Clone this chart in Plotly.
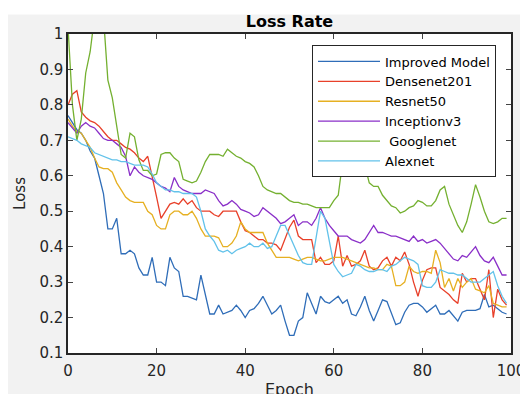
import plotly.graph_objects as go

epochs = list(range(100))

improved = [0.77,0.75,0.73,0.72,0.70,0.67,0.65,0.60,0.55,0.45,
            0.45,0.48,0.38,0.38,0.39,0.38,0.34,0.32,0.32,0.37,
            0.30,0.30,0.29,0.37,0.34,0.33,0.26,0.26,0.255,0.25,
            0.32,0.26,0.21,0.21,0.235,0.21,0.215,0.22,0.235,0.22,
            0.20,0.22,0.225,0.24,0.26,0.235,0.21,0.22,0.235,0.19,
            0.15,0.15,0.19,0.20,0.27,0.24,0.21,0.26,0.245,0.24,
            0.25,0.26,0.24,0.25,0.21,0.205,0.23,0.26,0.22,0.19,
            0.22,0.25,0.245,0.21,0.18,0.185,0.215,0.235,0.24,0.24,
            0.23,0.215,0.225,0.235,0.21,0.21,0.22,0.205,0.19,0.215,
            0.22,0.22,0.22,0.225,0.265,0.23,0.235,0.225,0.215,0.21]

densenet = [0.80,0.83,0.84,0.78,0.765,0.755,0.75,0.74,0.725,0.71,
            0.70,0.70,0.69,0.68,0.675,0.665,0.65,0.64,0.655,0.60,
            0.54,0.48,0.50,0.52,0.525,0.52,0.535,0.52,0.53,0.51,
            0.50,0.50,0.50,0.49,0.485,0.50,0.50,0.50,0.50,0.47,
            0.445,0.44,0.43,0.42,0.42,0.41,0.41,0.405,0.39,0.42,
            0.455,0.475,0.43,0.42,0.42,0.42,0.355,0.37,0.35,0.35,
            0.36,0.43,0.345,0.375,0.345,0.35,0.36,0.39,0.345,0.335,
            0.34,0.36,0.37,0.345,0.37,0.36,0.385,0.35,0.30,0.26,
            0.305,0.335,0.34,0.34,0.285,0.275,0.265,0.25,0.24,0.325,
            0.30,0.31,0.31,0.28,0.25,0.335,0.20,0.28,0.25,0.235]

resnet = [0.76,0.74,0.725,0.72,0.70,0.68,0.65,0.625,0.62,0.62,
          0.61,0.58,0.56,0.54,0.53,0.525,0.525,0.525,0.50,0.49,
          0.46,0.45,0.45,0.49,0.50,0.50,0.49,0.49,0.50,0.48,
          0.45,0.43,0.43,0.43,0.425,0.40,0.40,0.41,0.43,0.47,
          0.45,0.44,0.44,0.44,0.44,0.41,0.39,0.37,0.37,0.37,
          0.37,0.365,0.36,0.365,0.37,0.37,0.365,0.36,0.36,0.365,
          0.37,0.37,0.37,0.365,0.36,0.355,0.35,0.345,0.34,0.34,
          0.335,0.335,0.35,0.345,0.29,0.29,0.30,0.345,0.33,0.325,
          0.33,0.33,0.325,0.39,0.355,0.285,0.31,0.275,0.31,0.285,
          0.30,0.31,0.28,0.275,0.27,0.29,0.24,0.235,0.23,0.23]

inception = [0.75,0.735,0.72,0.74,0.75,0.74,0.735,0.72,0.705,0.70,
             0.70,0.69,0.68,0.655,0.60,0.625,0.61,0.60,0.595,0.59,
             0.58,0.57,0.565,0.555,0.595,0.57,0.56,0.555,0.55,0.55,
             0.55,0.56,0.555,0.55,0.53,0.515,0.52,0.53,0.52,0.505,
             0.50,0.495,0.485,0.49,0.51,0.50,0.49,0.48,0.465,0.47,
             0.48,0.49,0.46,0.47,0.47,0.46,0.48,0.51,0.48,0.46,
             0.445,0.43,0.43,0.43,0.42,0.415,0.41,0.42,0.44,0.46,
             0.44,0.44,0.435,0.43,0.43,0.425,0.42,0.415,0.43,0.415,
             0.42,0.41,0.415,0.42,0.41,0.395,0.38,0.365,0.36,0.375,
             0.37,0.385,0.40,0.375,0.36,0.355,0.37,0.345,0.32,0.32]

googlenet = [1.02,0.80,0.70,0.76,0.89,0.95,1.05,1.08,1.05,0.87,
             0.82,0.74,0.66,0.65,0.72,0.71,0.645,0.615,0.615,0.60,
             0.605,0.66,0.665,0.665,0.65,0.64,0.59,0.585,0.58,0.585,
             0.61,0.64,0.66,0.66,0.66,0.655,0.675,0.665,0.655,0.65,
             0.64,0.635,0.625,0.60,0.57,0.56,0.555,0.55,0.55,0.54,
             0.53,0.525,0.525,0.52,0.52,0.515,0.51,0.51,0.51,0.51,
             0.53,0.545,0.64,0.66,0.66,0.66,0.66,0.63,0.58,0.57,
             0.57,0.545,0.53,0.515,0.51,0.495,0.50,0.51,0.515,0.53,
             0.525,0.515,0.515,0.53,0.56,0.57,0.52,0.49,0.46,0.44,
             0.47,0.52,0.575,0.54,0.50,0.47,0.465,0.47,0.48,0.48]

alexnet = [0.71,0.705,0.70,0.69,0.685,0.68,0.665,0.66,0.655,0.65,
           0.645,0.645,0.64,0.64,0.635,0.63,0.63,0.63,0.625,0.605,
           0.58,0.57,0.56,0.56,0.555,0.555,0.55,0.55,0.55,0.54,
           0.50,0.45,0.43,0.415,0.39,0.385,0.39,0.38,0.39,0.395,
           0.40,0.41,0.40,0.40,0.41,0.395,0.40,0.43,0.46,0.46,
           0.43,0.40,0.375,0.355,0.35,0.35,0.42,0.50,0.48,0.41,
           0.35,0.33,0.315,0.32,0.325,0.35,0.345,0.335,0.33,0.33,
           0.335,0.335,0.33,0.345,0.35,0.36,0.37,0.365,0.36,0.35,
           0.29,0.285,0.285,0.30,0.335,0.33,0.325,0.325,0.32,0.32,
           0.31,0.30,0.30,0.30,0.31,0.32,0.33,0.29,0.26,0.24]

series_names = ["Improved Model", "Densenet201", "Resnet50", "Inceptionv3", " Googlenet", "Alexnet"]
series_values = [improved, densenet, resnet, inception, googlenet, alexnet]
colors = ["#2f6db8", "#e8402a", "#e6b022", "#8a2fc8", "#74b030", "#62c2ea"]

x_ticks = [0, 20, 40, 60, 80, 100]
y_ticks = [0.1, 0.2, 0.3, 0.4, 0.5, 0.6, 0.7, 0.8, 0.9, 1.0]
y_tick_labels = ["0.1", "0.2", "0.3", "0.4", "0.5", "0.6", "0.7", "0.8", "0.9", "1"]

fig = go.Figure()
for name, vals, c in zip(series_names, series_values, colors):
    fig.add_trace(go.Scatter(x=epochs, y=vals, mode="lines", name=name,
                             line=dict(color=c, width=1.3)))

font_family = "DejaVu Sans, sans-serif"

# the page body adds an 8px offset; the figure is laid out in its own coordinates
W, H = 528, 394
pl, pr, pt, pb = 60, 503, 25.5, 345  # plot area in figure pixels
plot_w, plot_h = pr - pl, pb - pt

fig.update_layout(
    width=W, height=H,
    margin=dict(l=pl, r=W - pr, t=pt, b=H - pb, autoexpand=False),
    paper_bgcolor="#f2f2f2",
    plot_bgcolor="white",
    font=dict(family=font_family, size=15, color="#262626"),
    title=dict(text="<b>Loss Rate</b>", x=281.5 / W, xanchor="center",
               y=1 - 13 / H, yanchor="middle",
               font=dict(size=16, color="#000000", family=font_family)),
    showlegend=True,
    legend=dict(x=(488 - pl) / plot_w, xanchor="right", y=(pb - 37) / plot_h, yanchor="top",
                bgcolor="white", bordercolor="#262626", borderwidth=1,
                font=dict(size=13, color="#000000", family=font_family),
                tracegroupgap=0, itemwidth=62),
    xaxis=dict(range=[0, 100], tickvals=x_ticks, ticks="inside", ticklen=5,
               showline=True, linecolor="#262626", linewidth=1.5, mirror="ticks",
               showgrid=False, zeroline=False, automargin=False,
               ticklabelstandoff=3,
               tickfont=dict(size=15, color="#262626"),
               title=dict(text="Epoch", standoff=5, font=dict(size=16, color="#262626"))),
    yaxis=dict(range=[0.1, 1.0], tickvals=y_ticks, ticktext=y_tick_labels,
               ticks="inside", ticklen=5,
               showline=True, linecolor="#262626", linewidth=1.5, mirror="ticks",
               showgrid=False, zeroline=False, automargin=False,
               tickfont=dict(size=15, color="#262626"),
               title=dict(text="Loss", standoff=10, font=dict(size=15, color="#262626"))),
    shapes=[
        dict(type="rect", xref="paper", yref="paper", x0=-0.3, x1=1.2,
             y0=(pb - 6) / plot_h, y1=1.3, fillcolor="white", line=dict(width=0), layer="below"),
    ],
)

fig.write_html("out.html")
